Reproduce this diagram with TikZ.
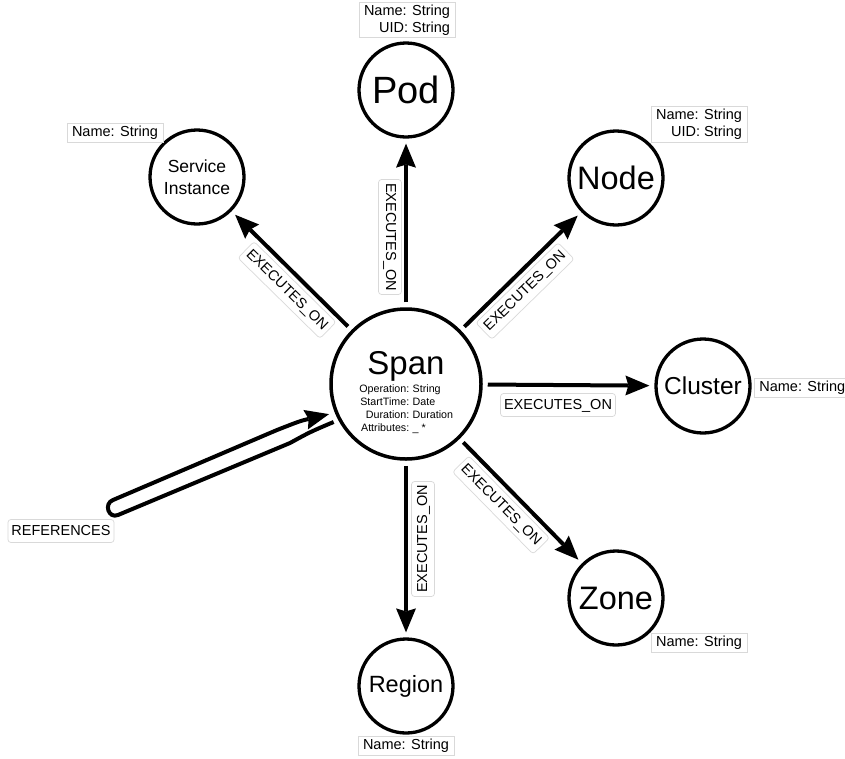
\documentclass[tikz,border=0pt]{standalone}
\usepackage{fontspec}
\setmainfont{Liberation Sans}
\usetikzlibrary{arrows.meta}
\tikzset{
  ent/.style={circle, draw=black, line width=3.3pt, minimum size=94pt, inner sep=0pt, align=center},
  rel/.style={line width=4pt, -{Stealth[length=24pt,width=20pt,inset=3pt,line width=0pt]}, shorten <=5pt, shorten >=5pt},
  rellabel/.style={draw=black!15, line width=0.7pt, fill=white, rounded corners=3pt, inner xsep=3.5pt, inner ysep=4.5pt, text height=11pt, text depth=3pt, font=\fontsize{14.5}{17}\selectfont},
  prop/.style={draw=black!15, line width=0.7pt, fill=white, inner xsep=5pt, inner ysep=2.5pt, font=\fontsize{14.5}{17}\selectfont, align=right},
  spanprop/.style={inner sep=0pt, font=\fontsize{10.7}{12.7}\selectfont},
}
\begin{document}
\begin{tikzpicture}[x=1pt,y=-1pt]
\useasboundingbox[fill=white] (0,0) rectangle (845,758);
% entities
\node[ent, minimum size=150pt, line width=3.5pt] (span) at (406,384) {};
\node[anchor=base, inner sep=0pt, font=\fontsize{33}{36}\selectfont] (spantitle) at (406,374) {Span};
\node[spanprop, anchor=north east, align=right] (spankeys) at (409.5,385) {Operation:\\StartTime:\\Duration:\\Attributes:};
\node[spanprop, anchor=north west, align=left] (spanvals) at (412.5,385) {String\\Date\\Duration\\\_ *};
\node[ent, font=\fontsize{38}{40}\selectfont] (pod) at (406,90) {Pod};
\node[ent, font=\fontsize{17.5}{21.5}\selectfont] (svc) at (197,177) {Service\\Instance};
\node[ent, font=\fontsize{32.5}{35}\selectfont] (nd) at (616,178) {Node};
\node[ent, font=\fontsize{24.5}{27}\selectfont] (cl) at (703,386) {Cluster};
\node[ent, font=\fontsize{32.5}{35}\selectfont] (zn) at (616,598) {Zone};
\node[ent, font=\fontsize{23.5}{26}\selectfont] (rg) at (406,686) {Region};
% relations
\draw[rel] (span) -- (pod);
\draw[rel] (span) -- (svc);
\draw[rel] (span) -- (nd);
\draw[rel] (span) -- (cl);
\draw[rel] (span) -- (zn);
\draw[rel] (span) -- (rg);
\draw[rel, shorten >=6pt] (span.208) .. controls (310,432) .. (290,443) -- (118,515)
   .. controls (108.5,519) and (103.5,503.5) .. (113,500) -- (277,430)
   .. controls (300,421) .. (span.202);
% relation labels
\node[rellabel, rotate=-90] (lpod) at (390,237) {EXECUTES\_ON};
\node[rellabel, rotate=90] (lrg) at (423,539) {EXECUTES\_ON};
\node[rellabel, rotate=-44.5] (lsvc) at (287,290) {EXECUTES\_ON};
\node[rellabel, rotate=44.3] (lnd) at (525,291) {EXECUTES\_ON};
\node[rellabel, rotate=-45.5] (lzn) at (501,505) {EXECUTES\_ON};
\node[rellabel] (lcl) at (558,405) {EXECUTES\_ON};
\node[rellabel] (lref) at (61,531) {REFERENCES};
% property boxes
\node[prop] (ppod) at (407,20) {Name: String\\UID: String};
\node[prop] (pnd) at (699,124.5) {Name: String\\UID: String};
\node[prop] (psvc) at (115,133) {Name: String};
\node[prop, anchor=west] (pcl) at (754,388) {Name: String};
\node[prop] (pzn) at (699,643) {Name: String};
\node[prop] (prg) at (406,746) {Name: String};
\end{tikzpicture}
\end{document}
